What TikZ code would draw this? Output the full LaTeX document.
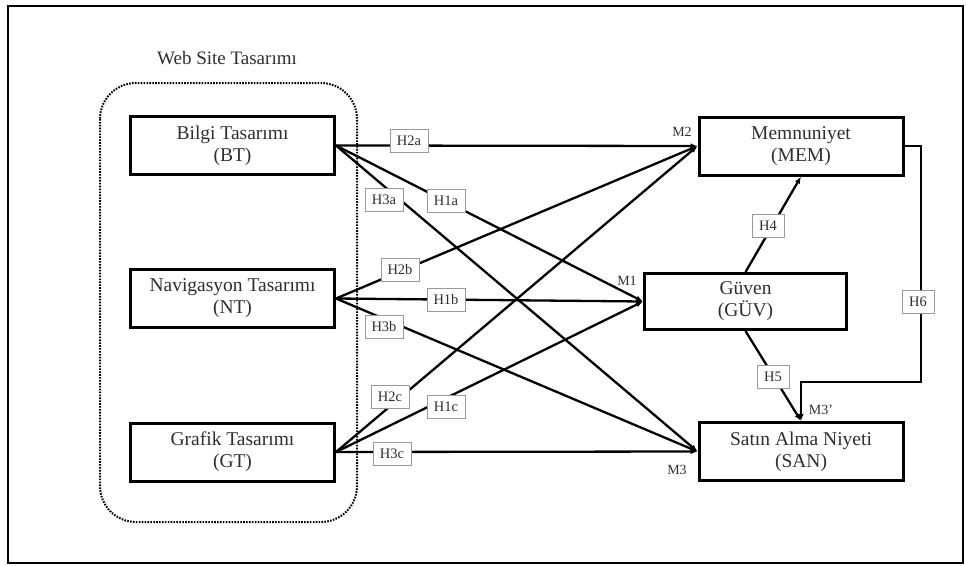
\documentclass[tikz,border=0pt]{standalone}
\usepackage{fontspec}
\setmainfont{Liberation Serif}
\usetikzlibrary{arrows.meta}
\definecolor{txt}{HTML}{2E2E2E}
\tikzset{
  box/.style={draw=black, line width=3pt, minimum width=204pt, minimum height=58pt,
    align=center, text=txt, font=\fontsize{19.5}{22}\selectfont, inner sep=2pt},
  lbl/.style={draw=gray!80, line width=0.9pt, fill=white, minimum width=38pt, minimum height=23pt,
    inner sep=1pt, text=txt, font=\fontsize{14.5}{16}\selectfont},
  mlab/.style={text=txt, font=\fontsize{14}{16}\selectfont, inner sep=0pt},
  conn/.style={line width=2.3pt, draw=black},
  arr/.style={conn, -{Latex[length=7pt,width=5.5pt]}},
}
\begin{document}
\begin{tikzpicture}[x=1pt,y=-1pt]
\useasboundingbox (0,0) rectangle (966,565);
\draw[line width=2.5pt] (8,6) rectangle (963,563);
\draw[line width=2pt, dash pattern=on 1.6pt off 1.3pt, rounded corners=36pt] (100,83) rectangle (357,522);
\node[text=txt, font=\fontsize{19}{22}\selectfont] (ws) at (227,58) {Web Site Tasarımı};

\node[box] (BT) at (232.5,145.5) {Bilgi Tasarımı\\(BT)};
\node[box] (NT) at (232.5,298.5) {Navigasyon Tasarımı\\(NT)};
\node[box] (GT) at (232.5,452) {Grafik Tasarımı\\(GT)};
\node[box] (MEM) at (801,146) {Memnuniyet\\(MEM)};
\node[box, minimum width=202pt, minimum height=56pt] (GUV) at (745.5,301.5) {Güven\\(GÜV)};
\node[box] (SAN) at (801,451.5) {Satın Alma Niyeti\\(SAN)};

\draw[arr] (BT.east) -- (MEM.west);
\draw[arr] (BT.east) -- (GUV.west);
\draw[arr] (BT.east) -- (SAN.west);
\draw[arr] (NT.east) -- (MEM.west);
\draw[arr] (NT.east) -- (GUV.west);
\draw[arr] (NT.east) -- (SAN.west);
\draw[arr] (GT.east) -- (MEM.west);
\draw[arr] (GT.east) -- (GUV.west);
\draw[arr] (GT.east) -- (SAN.west);
\draw[arr] (GUV.north) -- (MEM.south);
\draw[arr] (GUV.south) -- (SAN.north);
\coordinate (c2) at (921,382);
\draw[arr] (MEM.east) -| (c2) -| (SAN.north);

\node[lbl] (h2a) at (409,141) {H2a};
\node[lbl] (h3a) at (384,200) {H3a};
\node[lbl] (h1a) at (446,201) {H1a};
\node[lbl] (h2b) at (400,270) {H2b};
\node[lbl] (h1b) at (446,300) {H1b};
\node[lbl] (h3b) at (384,327) {H3b};
\node[lbl] (h2c) at (390,397) {H2c};
\node[lbl] (h1c) at (446,407) {H1c};
\node[lbl] (h3c) at (392,454) {H3c};
\node[lbl, minimum width=32pt] (h4) at (768,226) {H4};
\node[lbl, minimum width=32pt] (h5) at (773,377) {H5};
\node[lbl, minimum width=32pt] (h6) at (918,302) {H6};

\node[mlab] (m2) at (682,132) {M2};
\node[mlab] (m1) at (627,281) {M1};
\node[mlab] (m3) at (677,470) {M3};
\node[mlab] (m3p) at (821,410) {M3'};
\end{tikzpicture}
\end{document}
